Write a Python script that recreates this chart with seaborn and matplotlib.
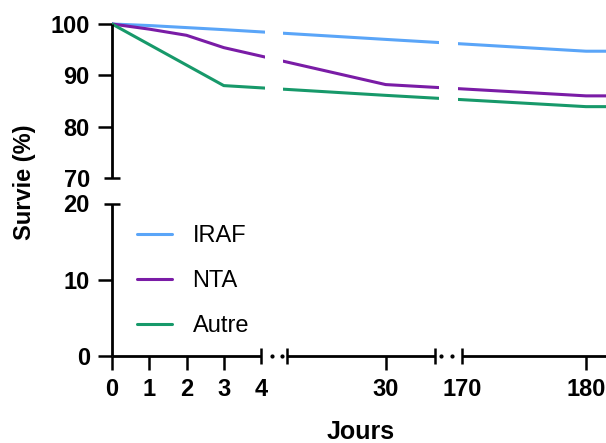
import numpy as np
import pandas as pd
import matplotlib
matplotlib.use("Agg")
import matplotlib.pyplot as plt
import seaborn as sns

# Données (survie en %)
jours = [0, 1, 2, 3, 30, 180, 185]
survie_iraf = [100, 99.7, 99.3, 98.9, 97.0, 94.7, 94.7]
survie_nta = [100, 99.0, 97.8, 95.4, 88.2, 86.0, 86.0]
survie_autre = [100, 96.0, 92.0, 88.0, 86.1, 83.9, 83.9]
groupes = ['IRAF', 'NTA', 'Autre']
couleurs = ['#5AA5F8', '#7A1CA6', '#17996A']

xticks = [0, 1, 2, 3, 30, 180]
yticks = [0, 10, 80, 90, 100]

df = pd.DataFrame({
    'Jours': jours * 3,
    'Survie': survie_iraf + survie_nta + survie_autre,
    'Groupe': [g for g in groupes for _ in jours],
})

# axes coupés : échelle par morceaux (valeur -> pixel)
X_JOURS = [-10, 0, 4, 10, 40, 170, 190]
X_PIX = [112 - 372.5, 112, 261, 287, 435, 462, 710]
Y_VAL = [-10, 0, 20, 70, 100, 110]
Y_PIX = [10.75, 87, 239.5, 265, 419, 470.3]

def fx(v):
    return np.interp(v, X_JOURS, X_PIX)

def fx_inv(p):
    return np.interp(p, X_PIX, X_JOURS)

def fy(v):
    return np.interp(v, Y_VAL, Y_PIX)

def fy_inv(p):
    return np.interp(p, Y_PIX, Y_VAL)

sns.set_style("ticks")
plt.rcParams['font.family'] = ['Liberation Sans', 'DejaVu Sans']
plt.rcParams['font.weight'] = 'bold'
for k in ['text.color', 'axes.labelcolor', 'xtick.color', 'ytick.color']:
    plt.rcParams[k] = 'black'

W, H = 606, 443
fig = plt.figure(figsize=(W / 100, H / 100), dpi=100)
y_top = fy(101)
ax = fig.add_axes([112 / W, 87 / H, (W - 112) / W, (y_top - 87) / H])
ax.set_xscale('function', functions=(fx, fx_inv))
ax.set_yscale('function', functions=(fy, fy_inv))

sns.lineplot(data=df, x='Jours', y='Survie', hue='Groupe', hue_order=groupes,
             palette=couleurs, estimator=None, sort=False, lw=2.2, ax=ax)

ax.set_xlim(0, fx_inv(W))
ax.set_ylim(0, 101)

# masquer les traits dans les coupures
for p0, p1 in [(265, 283), (439, 458)]:
    ax.axvspan(fx_inv(p0), fx_inv(p1), ymin=0.45, ymax=1, color='white', lw=0, zorder=4)

# axes dessinés par morceaux
for s in ax.spines.values():
    s.set_visible(False)
kw = dict(color='black', lw=2, clip_on=False, solid_capstyle='butt', zorder=6)
for a, b in [(0, 4), (10, 40), (170, 200)]:
    ax.plot([a, b], [0, 0], **kw)
for a, b in [(0, 20), (70, 100)]:
    ax.plot([0, 0], [a, b], **kw)
ax.plot(fx_inv(np.array([272, 282, 441, 452])), [0, 0, 0, 0], ls='none', marker='o',
        ms=2, color='black', clip_on=False, zorder=6)

ax.set_xticks(xticks)
ax.set_xticks([4, 10, 40, 170], labels=['4', '', '', '170'], minor=True)
ax.set_yticks(yticks)
ax.set_yticks([20, 70], labels=['20', '70'], minor=True)
ax.tick_params(which='both', bottom=True, left=True, top=False, right=False, color='black')
ax.tick_params(which='major', direction='out', length=10, width=1.8, labelsize=17, pad=6)
ax.tick_params(which='minor', direction='inout', length=12, width=1.8, labelsize=17, pad=10)

ax.set_xlabel('Jours', fontsize=18, fontweight='bold')
ax.set_ylabel('Survie (%)', fontsize=17, fontweight='bold')
ax.xaxis.label.set_va('center')
ax.yaxis.label.set_va('center')
ax.xaxis.set_label_coords(0.504, -0.2255)
ax.yaxis.set_label_coords(-0.178, 0.516)

# légende
old = ax.get_legend()
handles = old.legend_handles
leg = ax.legend(handles, groupes, loc='upper left',
                bbox_to_anchor=(137 / W, (H - 225) / H), bbox_transform=fig.transFigure,
                frameon=False, prop={'size': 17, 'weight': 'normal'},
                handlelength=1.5, handletextpad=0.85, labelspacing=0.98,
                borderpad=0, borderaxespad=0)
for h in leg.legend_handles:
    h.set_linewidth(2.2)

fig.savefig('out.png', dpi=100)
